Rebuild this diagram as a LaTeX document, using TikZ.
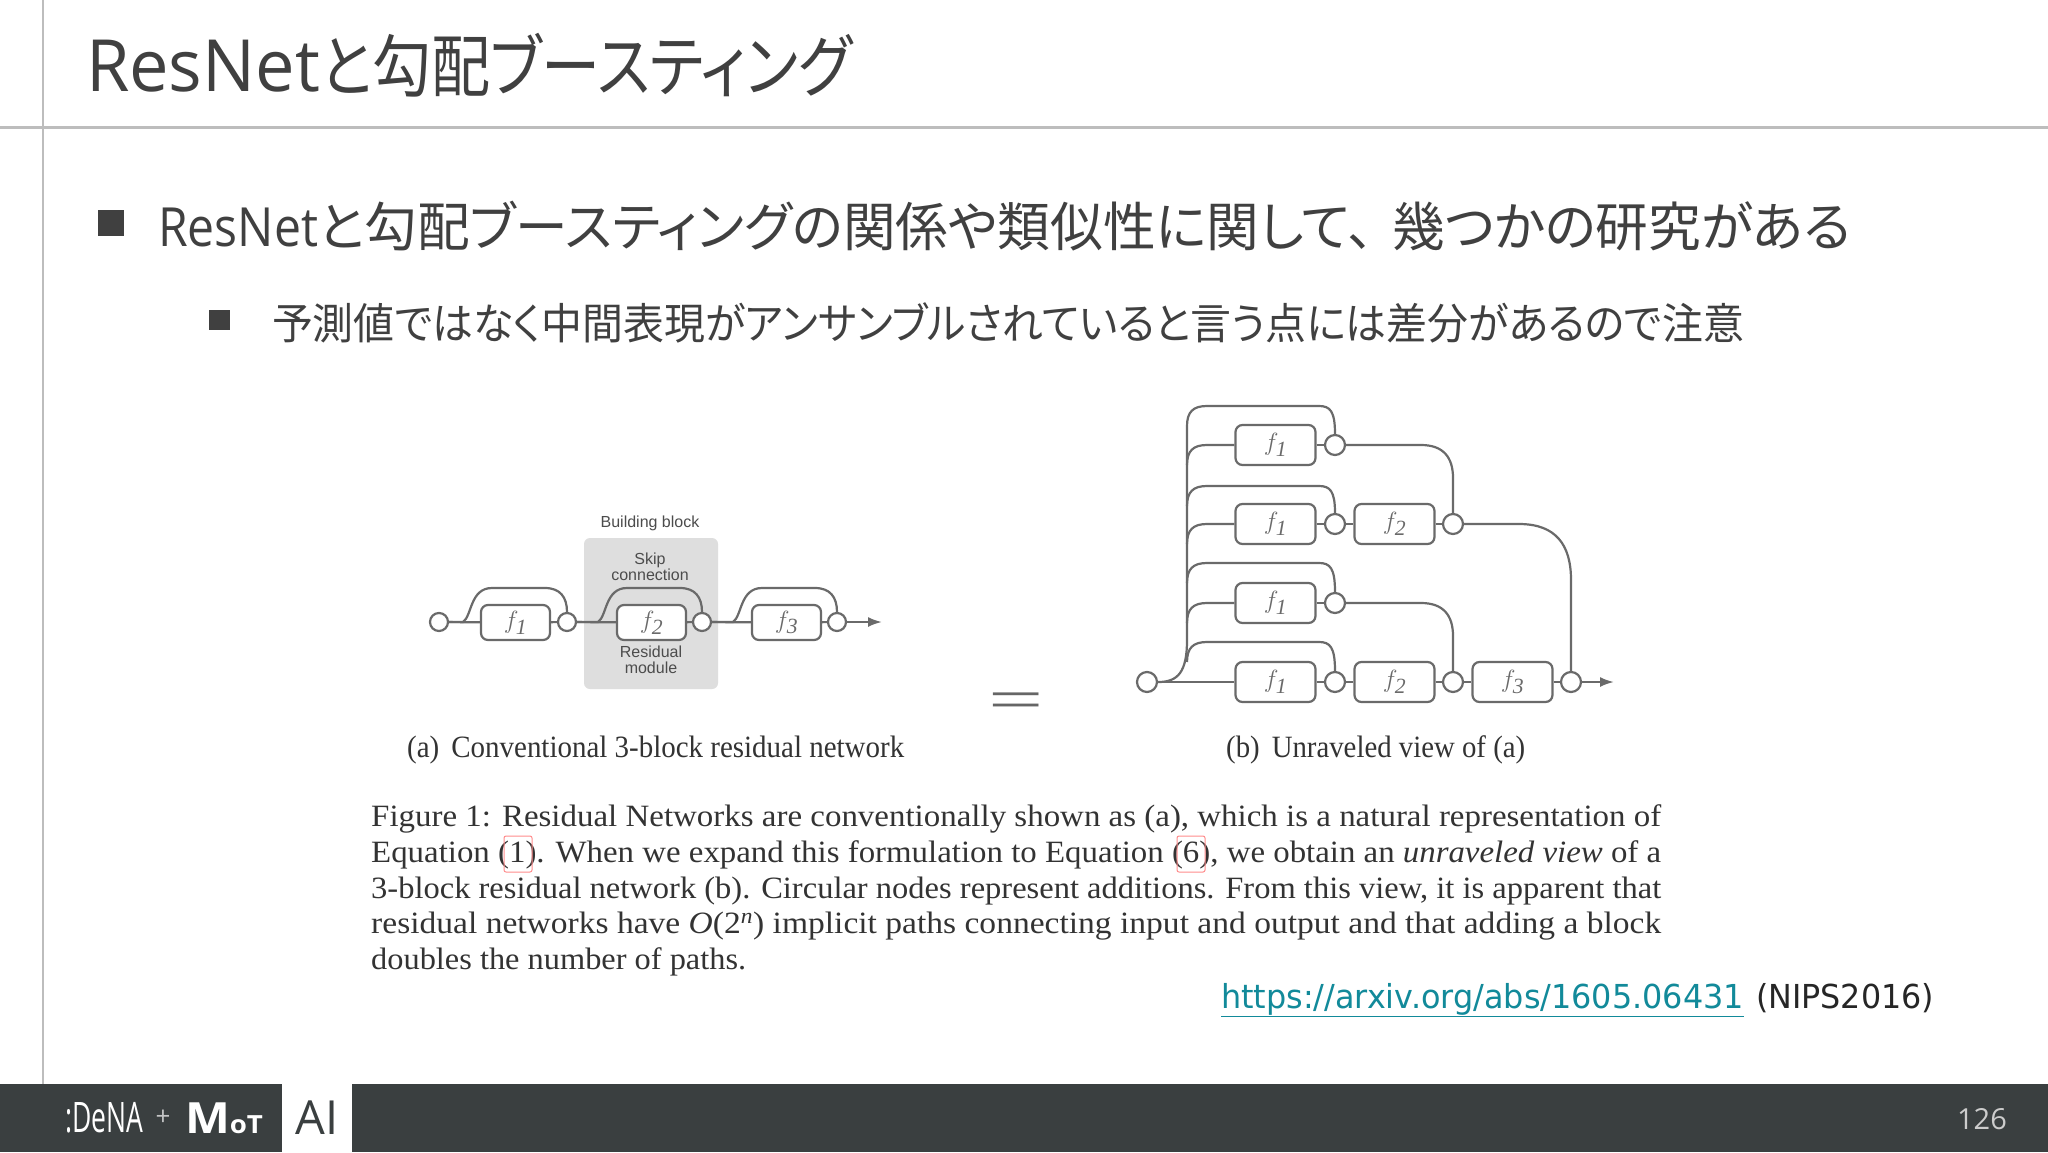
\documentclass[tikz,border=0pt]{standalone}
\usepackage{graphicx}
\usepackage{fontspec}
\setmainfont{Liberation Serif}
\setsansfont{Liberation Sans}
\newfontfamily\jpf[RawFeature=+palt]{Noto Sans CJK JP}
\newfontfamily\latf{Open Sans}
\newfontfamily\urlf{DejaVu Sans}
\newsavebox\fitbx
\newcommand\fitw[2]{\sbox\fitbx{#2}\pgfmathsetmacro\fitratio{#1/\wd\fitbx}\scalebox{\fitratio}[1]{\usebox\fitbx}}
\newcommand\fone{$f_{\mathit{1}}$}
\newcommand\ftwo{$f_{\mathit{2}}$}
\newcommand\fthree{$f_{\mathit{3}}$}
\definecolor{ink}{HTML}{404040}
\definecolor{bar}{HTML}{3A3F40}
\definecolor{rulec}{HTML}{BDBDBD}
\definecolor{linec}{HTML}{6A6A6A}
\definecolor{linkc}{HTML}{128A9A}
\definecolor{capc}{HTML}{333333}
\usetikzlibrary{arrows.meta}
\tikzset{
 txt/.style={inner sep=0,outer sep=0,anchor=base west,text=ink},
 fbox/.style={draw=linec,line width=2.2pt,rounded corners=7pt,fill=white,inner sep=0,text=linec,font=\fontsize{31}{31}\selectfont},
 fa/.style={fbox,minimum width=69pt,minimum height=35pt},
 fb/.style={fbox,minimum width=80pt,minimum height=40pt},
 add/.style={circle,draw=linec,line width=2.2pt,fill=white,inner sep=0,minimum size=#1},
 conn/.style={draw=linec,line width=2.2pt},
 lab/.style={inner sep=0,text=black!70,font=\fontsize{16}{17}\selectfont\sffamily,align=center},
 capt/.style={inner sep=0,anchor=base west,text=capc,font=\fontsize{31}{31}\selectfont},
 arrowt/.style={-{Latex[length=14pt,width=10pt]}},
}
\begin{document}
\begin{tikzpicture}[x=1pt,y=-1pt]
\useasboundingbox (0,0) rectangle (2048,1152);
\fill[white] (0,0) rectangle (2048,1152);
% frame
\draw[rulec,line width=3pt] (0,127) -- (2048,127);
\draw[rulec,line width=2.5pt] (43,0) -- (43,1084);
\fill[bar] (0,1084) rectangle (2048,1152);
\fill[white] (282,1084) rectangle (352,1152);
% title and bullets
\node[txt] (title) at (86,91) {\fitw{234}{\fontsize{72}{72}\selectfont\latf ResNet}\fitw{532}{\fontsize{68}{68}\selectfont\jpf と勾配ブースティング}};
\fill[ink] (98,210) rectangle (124,236);
\node[txt] (b1) at (158,246) {\fitw{160}{\fontsize{54}{54}\selectfont\latf ResNet}\fitw{1533}{\fontsize{53}{53}\selectfont\jpf と勾配ブースティングの関係や類似性に関して、\hspace{18pt}幾つかの研究がある}};
\fill[ink] (209,310) rectangle (230,330);
\node[txt] (b2) at (272,339) {\fitw{1472}{\fontsize{43}{43}\selectfont\jpf 予測値ではなく中間表現がアンサンブルされていると言う点には差分があるので注意}};
% diagram a
\fill[black!13,rounded corners=6pt] (584,538) rectangle (718,689);
\node[lab] (bb) at (650,523) {Building block};
\node[lab] (skip) at (650,567) {Skip\\[-1pt]connection};
\node[lab] (res) at (651,660) {Residual\\[-1pt]module};
\node[add=18pt] (a0) at (439,622) {};
\node[fa] (af1) at (515.5,622.5) {\fone};
\node[add=18pt] (a1) at (567,622) {};
\node[fa] (af2) at (651.5,622.5) {\ftwo};
\node[add=18pt] (a2) at (702,622) {};
\node[fa] (af3) at (786.5,622.5) {\fthree};
\node[add=18pt] (a3) at (837,622) {};
\coordinate (aend) at (882,622);
\draw[conn] (a0) -- (af1); \draw[conn] (af1) -- (a1); \draw[conn] (a1) -- (af2);
\draw[conn] (af2) -- (a2); \draw[conn] (a2) -- (af3); \draw[conn] (af3) -- (a3);
\draw[conn,arrowt] (a3) -- (aend);
\draw[conn] (a0.east) -- (463,622) .. controls (472,616) and (470,588) .. (492,588) -- (545,588) .. controls (560,588) and (567,597) .. (a1.north);
\draw[conn] (a1.east) -- (598,622) .. controls (607,616) and (605,588) .. (627,588) -- (680,588) .. controls (695,588) and (702,597) .. (a2.north);
\draw[conn] (a2.east) -- (733,622) .. controls (742,616) and (740,588) .. (762,588) -- (815,588) .. controls (830,588) and (837,597) .. (a3.north);
\node[capt] (capa) at (407,757) {\fitw{497}{(a)\, Conventional 3-block residual network}};
% equals
\node[inner sep=0,text=black!60] (eq) at (1016,706) {\scalebox{1.75}[1.0]{\fontsize{56}{56}\selectfont =}};
% diagram b
\node[add=20pt] (b0) at (1147,682) {};
\node[fb] (r1f1) at (1275.5,445) {\fone};
\node[add=20pt] (r1c1) at (1335,445) {};
\node[fb] (r2f1) at (1275.5,524) {\fone};
\node[add=20pt] (r2c1) at (1335,524) {};
\node[fb] (r2f2) at (1394.5,524) {\ftwo};
\node[add=20pt] (r2c2) at (1453,524) {};
\node[fb] (r3f1) at (1275.5,603) {\fone};
\node[add=20pt] (r3c1) at (1335,603) {};
\node[fb] (r4f1) at (1275.5,682) {\fone};
\node[add=20pt] (r4c1) at (1335,682) {};
\node[fb] (r4f2) at (1394.5,682) {\ftwo};
\node[add=20pt] (r4c2) at (1453,682) {};
\node[fb] (r4f3) at (1512.5,682) {\fthree};
\node[add=20pt] (r4c3) at (1571,682) {};
\coordinate (bend) at (1614,682);
\draw[conn] (b0) -- (r4f1);
\draw[conn] (r4f1) -- (r4c1); \draw[conn] (r4c1) -- (r4f2); \draw[conn] (r4f2) -- (r4c2);
\draw[conn] (r4c2) -- (r4f3); \draw[conn] (r4f3) -- (r4c3);
\draw[conn,arrowt] (r4c3) -- (bend);
\draw[conn] (r2f1) -- (r2c1); \draw[conn] (r2c1) -- (r2f2); \draw[conn] (r2f2) -- (r2c2);
\draw[conn] (r1f1) -- (r1c1); \draw[conn] (r3f1) -- (r3c1);
% trunk and skips
\draw[conn] (b0.east) .. controls (1178,682) and (1187,672) .. (1187,640) -- (1187,426) .. controls (1187,412) and (1193,406) .. (1207,406) -- (1319,406) .. controls (1330,406) and (1335,411) .. (r1c1.north);
\draw[conn] (1187,465) .. controls (1187,451) and (1193,445) .. (1207,445) -- (r1f1.west);
\draw[conn] (1187,506) .. controls (1187,492) and (1193,486) .. (1207,486) -- (1319,486) .. controls (1330,486) and (1335,491) .. (r2c1.north);
\draw[conn] (1187,544) .. controls (1187,530) and (1193,524) .. (1207,524) -- (r2f1.west);
\draw[conn] (1187,583) .. controls (1187,569) and (1193,563) .. (1207,563) -- (1319,563) .. controls (1330,563) and (1335,568) .. (r3c1.north);
\draw[conn] (1187,623) .. controls (1187,609) and (1193,603) .. (1207,603) -- (r3f1.west);
\draw[conn] (1187,662) .. controls (1187,648) and (1193,642) .. (1207,642) -- (1319,642) .. controls (1330,642) and (1335,647) .. (r4c1.north);
% cross links
\draw[conn] (r1c1.east) -- (1421,445) .. controls (1443,445) and (1453,457) .. (1453,478) -- (r2c2.north);
\draw[conn] (r3c1.east) -- (1421,603) .. controls (1443,603) and (1453,615) .. (1453,636) -- (r4c2.north);
\draw[conn] (r2c2.east) -- (1519,524) .. controls (1556,524) and (1571,545) .. (1571,580) -- (r4c3.north);
\node[capt] (capb) at (1226,757) {\fitw{299}{(b)\, Unraveled view of (a)}};
% figure caption
\node[capt] (l1) at (371,826) {\fitw{1290}{Figure 1: Residual Networks are conventionally shown as (a), which is a natural representation of}};
\node[capt] (l2) at (371,862) {\fitw{1290}{Equation (1). When we expand this formulation to Equation (6), we obtain an \textit{unraveled view} of a}};
\node[capt] (l3) at (371,898) {\fitw{1290}{3-block residual network (b). Circular nodes represent additions. From this view, it is apparent that}};
\node[capt] (l4) at (371,933) {\fitw{1290}{residual networks have \textit{O}(2\textsuperscript{\textit{n}}) implicit paths connecting input and output and that adding a block}};
\node[capt] (l5) at (371,969) {\fitw{375}{doubles the number of paths.}};
\draw[red!45!white,line width=1pt,rounded corners=2pt] (504,836) rectangle (532,872);
\draw[red!45!white,line width=1pt,rounded corners=2pt] (1177,836) rectangle (1205,872);
% link
\node[txt,text=linkc] (url) at (1221,1008) {\fitw{523}{\fontsize{33}{33}\selectfont\urlf\underline{https://arxiv.org/abs/1605.06431}}};
\node[txt,text=black!85] (nips) at (1756,1008) {\fitw{178}{\fontsize{33}{33}\selectfont\urlf (NIPS2016)}};
% footer
\node[inner sep=0,text=white] (dena) at (104,1118) {\fitw{78}{\fontsize{42}{42}\selectfont\latf :DeNA}};
\node[inner sep=0,text=white!70!bar] (plus) at (163,1118) {\fontsize{26}{26}\selectfont\latf +};
\node[inner sep=0,outer sep=0,anchor=base west,text=white] (mot) at (185,1133) {\fitw{78}{\latf\bfseries\fontsize{43}{43}\selectfont M\fontsize{25}{25}\selectfont oT}};
\node[inner sep=0,text=bar] (ai) at (317,1118) {\fontsize{47}{47}\selectfont\latf AI};
\node[inner sep=0,text=black!20,anchor=base east] (page) at (2007,1129) {\fontsize{29}{29}\selectfont\latf 126};
\end{tikzpicture}
\end{document}
